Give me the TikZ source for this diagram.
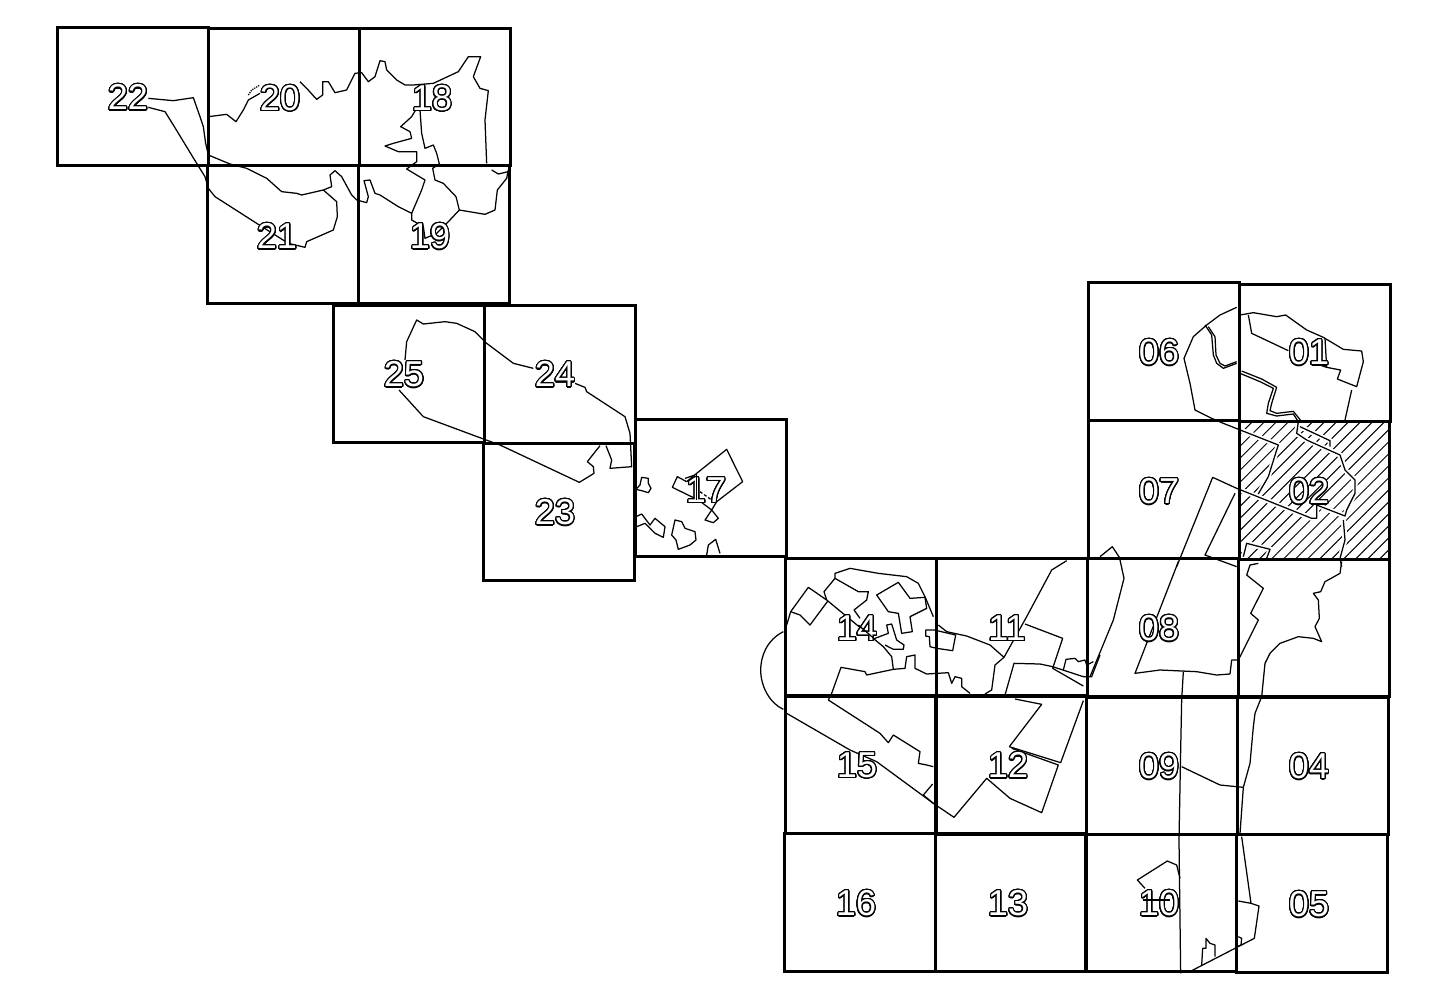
\documentclass[tikz,border=0pt]{standalone}
\usepackage{fontspec}
\usepackage[copies]{contour}
\setmainfont{Liberation Sans}
\usetikzlibrary{patterns.meta}
\contourlength{1.2pt}
\contournumber{32}
\newcommand{\sheetno}[1]{\contour{black}{\textcolor{white}{#1}}}
\begin{document}
\begin{tikzpicture}[
        x=1pt, y=-1pt,
        sheet/.style={draw, line width=3pt, minimum width=151pt, minimum height=137.5pt, outer sep=0pt, inner sep=0pt},
        hatched/.style={pattern={Lines[angle=45,distance=8.5pt,line width=1pt]}},
        sheetlabel/.style={inner sep=0pt, yshift=-1pt, font=\fontsize{36}{36}\selectfont},
        coast/.style={draw, line width=1.25pt, line join=round},
        halo/.style={preaction={draw=white, line width=5pt}},
        nw area/.style={shift={(40,20)},scale=1/3},
        mid area/.style={shift={(320,300)},scale=1/3},
        south area/.style={shift={(750,550)},scale=1/3},
        ne area/.style={shift={(1080,280)},scale=1/3},
        se area/.style={shift={(1080,550)},scale=1/3},
    ]
    \useasboundingbox (0,0) rectangle (1437,989);
    % hatched sheet goes under the coast
    \node[sheet, hatched, minimum width=150pt](s02) at (1314,490.5){};
    % sheets 06, 01, 07, 02
    \begin{scope}[ne area]
        \path[coast, halo] (470,82) -- (420,105) -- (380,135) -- (340,170) -- (312,235) -- (330,310) -- (345,390) -- (395,415) -- (430,430) -- (595,495) -- (590,510) -- (565,590) -- (530,650);
        \path[coast] (375,135) -- (395,165) -- (400,225) -- (410,250) -- (430,265) -- (470,250);
        \path[coast] (385,140) -- (405,170) -- (408,225) -- (420,250) -- (435,258) -- (470,245);
        \path[coast] (480,105) -- (520,98) -- (590,110) -- (617,105) -- (680,150) -- (730,172) -- (790,208) -- (845,213) -- (850,245) -- (830,320) -- (772,297) -- (782,270) -- (740,262) -- (690,245);
        \path[coast] (505,105) -- (515,160) -- (625,212);
        \path[coast] (735,175) -- (740,262);
        \path[coast] (815,330) -- (795,420);
        \path[coast, halo] (480,280) -- (540,305) -- (580,325) -- (565,370) -- (560,400) -- (590,408) -- (640,402) -- (655,425) -- (650,460) -- (680,480) -- (780,525) -- (795,570) -- (825,600) -- (825,640) -- (800,690) -- (795,708) -- (710,675) -- (710,715) -- (695,715) -- (470,625) -- (398,592) -- (290,860);
        \path[coast] (485,273) -- (545,297) -- (590,322) -- (575,370) -- (570,392) -- (590,400) -- (640,394) -- (665,425);
        \path[coast] (465,640) -- (375,825) -- (470,860);
        \path[coast, halo] (660,440) -- (750,482) -- (750,500);
        \path[coast, halo] (790,720) -- (795,780) -- (780,835) -- (785,860);
        \path[coast, halo] (490,830) -- (500,790) -- (570,808) -- (560,835);
        \path[coast] (60,830) -- (97,800) -- (120,835);
    \end{scope}
    % coast and boundaries, top left sheets
    \begin{scope}[nw area]
        \path[coast] (325,235) -- (400,242) -- (460,233) -- (480,290) -- (490,320) -- (497,370) -- (505,405) -- (570,432) -- (620,445) -- (680,475) -- (725,515) -- (770,520) -- (785,525) -- (850,510) -- (875,500) -- (870,465) -- (885,452) -- (905,470) -- (935,525) -- (950,540) -- (980,548) -- (985,530) -- (972,482) -- (990,480) -- (1005,520) -- (1020,525) -- (1075,560) -- (1115,580) -- (1145,510) -- (1155,480) -- (1100,447) -- (1130,425) -- (1130,395) -- (1075,395) -- (1035,378) -- (1060,370) -- (1115,355) -- (1110,335) -- (1082,320) -- (1115,290) -- (1130,265);
        \path[coast] (1115,580) -- (1115,600) -- (1150,620) -- (1155,655) -- (1190,640) -- (1225,605) -- (1258,570) -- (1335,583) -- (1365,570) -- (1372,510) -- (1400,475) -- (1405,450);
        \path[coast] (1258,570) -- (1248,530) -- (1210,490) -- (1185,480) -- (1178,445) -- (1198,432) -- (1190,400) -- (1180,375) -- (1155,385) -- (1145,340) -- (1140,270);
        \path[coast] (1355,450) -- (1375,462) -- (1405,455);
        \path[coast] (505,290) -- (560,283) -- (588,305) -- (610,270) -- (625,240) -- (660,220);
        \path[coast, densely dotted] (625,225) -- (635,210) -- (660,195);
        \path[coast] (780,185) -- (800,205) -- (830,238) -- (848,225) -- (848,185) -- (865,185) -- (885,218) -- (920,210) -- (945,160) -- (965,158) -- (985,185) -- (1005,170) -- (1020,122) -- (1035,125) -- (1040,150) -- (1070,180) -- (1095,195) -- (1120,195) -- (1180,190) -- (1255,155) -- (1285,110) -- (1322,110) -- (1300,170) -- (1320,205) -- (1345,212) -- (1335,300) -- (1340,430);
        \path[coast] (325,262) -- (375,275) -- (400,315) -- (470,430) -- (495,470) -- (505,505) -- (525,530) -- (650,610) -- (745,670) -- (795,682) -- (800,665) -- (880,630) -- (892,590) -- (890,545) -- (850,510);
    \end{scope}
    % sheets 25, 24, 23, 17
    \begin{scope}[mid area]
        \path[coast] (237,270) -- (310,350) -- (485,415) -- (540,435) -- (778,547) -- (822,520) -- (820,500) -- (802,485) -- (840,437);
        \path[coast] (255,180) -- (260,125) -- (290,60) -- (310,72) -- (375,65) -- (410,70) -- (465,95) -- (500,130) -- (580,190) -- (640,205);
        \path[coast] (765,250) -- (795,262) -- (800,275) -- (915,350) -- (930,400) -- (935,500) -- (870,505) -- (875,480) -- (858,437);
        \path[coast] (948,568) -- (960,555) -- (965,532) -- (985,535) -- (985,550) -- (993,565) -- (985,578) -- (965,572) -- cycle;
        \path[coast] (948,650) -- (965,642) -- (990,675) -- (1005,655) -- (1035,680) -- (1030,712) -- (1005,700) -- (975,670) -- (950,680);
        \path[coast] (1065,660) -- (1085,665) -- (1095,685) -- (1125,695) -- (1128,720) -- (1110,735) -- (1075,748) -- (1068,720) -- (1055,705) -- cycle;
        \path[coast] (1160,765) -- (1165,735) -- (1187,718) -- (1200,760);
        \path[coast] (1175,630) -- (1195,655) -- (1180,668) -- (1155,660) -- cycle;
        \path[coast] (1057,562) -- (1072,530) -- (1100,545) -- (1130,520) -- (1220,448) -- (1268,545) -- (1190,605) -- (1175,630) -- (1135,600) -- cycle;
    \end{scope}
    % sheets 14, 11, 15, 12
    \begin{scope}[south area]
        \path[coast] (100,245) .. controls (50,270) and (32,320) .. (32,360) .. controls (32,410) and (60,460) .. (100,478);
        \path[coast] (110,490) -- (300,600) -- (380,635) -- (550,760) -- (612,802) -- (710,685) -- (780,745) -- (875,788) -- (925,645) -- (785,595);
        \path[coast] (778,590) -- (932,638) -- (1000,452);
        \path[coast] (778,590) -- (875,463) -- (795,447);
        \path[coast] (550,760) -- (520,735) -- (548,702);
        \path[coast] (235,450) -- (390,550) -- (415,578) -- (430,555) -- (510,605) -- (505,640) -- (530,645) -- (550,650);
        \path[coast] (235,450) -- (245,430) -- (273,352) -- (345,365) -- (350,375) -- (430,358) -- (465,355) -- (470,320) -- (495,315) -- (495,355) -- (530,372) -- (595,368) -- (605,400) -- (615,380) -- (635,385) -- (635,410) -- (660,430);
        \path[coast] (430,358) -- (425,320) -- (400,290) -- (230,150) -- (175,112) -- (122,185) -- (150,195) -- (180,225) -- (232,155);
        \path[coast] (122,185) -- (110,225);
        \path[coast] (230,150) -- (222,125) -- (255,85) -- (325,125) -- (355,125) -- (350,150) -- (312,180) -- (330,205);
        \path[coast] (255,85) -- (255,70) -- (300,55) -- (385,70) -- (470,80) -- (505,100) -- (525,140) -- (550,200);
        \path[coast] (380,135) -- (445,97) -- (480,145) -- (525,142) -- (530,175) -- (480,200) -- (487,245) -- (455,250) -- (445,190) -- (415,185) -- cycle;
        \path[coast] (375,265) -- (415,250) -- (410,225) -- (425,222) -- (440,270) -- (462,285) -- (460,298) -- (430,298) -- (405,285);
        \path[coast] (527,240) -- (553,240) -- (617,255) -- (608,302) -- (560,295) -- (540,290) -- (538,260) -- (527,258) -- cycle;
        \path[coast] (565,225) -- (590,245) -- (650,258) -- (720,285) -- (762,322) -- (830,200) -- (905,60) -- (950,32);
        \path[coast] (825,222) -- (938,265) -- (908,355) -- (1000,408);
        \path[coast] (762,322) -- (735,345) -- (725,420) -- (705,432);
        \path[coast] (765,435) -- (792,340) -- (870,342) -- (908,350) -- (1000,380) -- (1025,380) -- (1050,315);
        \path[coast] (940,360) -- (948,328) -- (975,325) -- (985,335) -- (1005,330) -- (1010,345) -- (1030,335);
    \end{scope}
    % sheets 08, 03, 09, 04, 10, 05
    \begin{scope}[se area]
        \path[coast] (120,30) -- (132,85) -- (100,210) -- (30,380);
        \path[coast] (295,35) -- (165,370) -- (240,360) -- (350,365) -- (410,375) -- (450,372) -- (455,330) -- (475,330) -- (535,210) -- (512,190) -- (550,115) -- (500,75) -- (510,45) -- (535,40);
        \path[coast] (310,365) -- (305,450) -- (302,600) -- (297,870) -- (302,1270);
        \path[coast] (305,650) -- (420,705) -- (490,712) -- (510,640) -- (520,530) -- (525,490) -- (545,440) -- (555,340) -- (570,310) -- (600,280) -- (655,260) -- (700,265) -- (725,275) -- (705,230) -- (718,205) -- (715,150) -- (700,130) -- (722,125) -- (735,95) -- (780,70) -- (785,35);
        \path[coast] (490,712) -- (480,850);
        \path[coast] (485,860) -- (513,1060) -- (475,1053);
        \path[coast] (513,1060) -- (537,1068) -- (523,1165) -- (335,1262);
        \path[coast] (475,1160) -- (485,1165) -- (483,1185) -- (470,1190);
        \path[coast] (300,985) -- (290,945) -- (262,933) -- (172,990) -- (195,1015);
        \path[coast] (365,1245) -- (368,1195) -- (378,1195) -- (378,1165) -- (390,1180) -- (405,1185) -- (405,1220);
    \end{scope}
    % map sheets
    \node[sheet](s22) at (132.5,96.5){};
    \node[sheet](s20) at (283.5,97){};
    \node[sheet](s18) at (434.5,97){};
    \node[sheet](s21) at (282.5,234.5){};
    \node[sheet](s19) at (433.5,234.5){};
    \node[sheet](s25) at (408.5,374){};
    \node[sheet](s24) at (559.5,374.5){};
    \node[sheet](s23) at (559,512){};
    \node[sheet](s17) at (710.5,488){};
    \node[sheet](s06) at (1163.5,351.5){};
    \node[sheet](s01) at (1315,353){};
    \node[sheet](s07) at (1163.5,489.5){};
    \node[sheet](s14) at (860.5,627){};
    \node[sheet](s11) at (1011.5,627){};
    \node[sheet](s08) at (1162.5,627.5){};
    \node[sheet](s03) at (1313.5,628){};
    \node[sheet](s15) at (860.5,765){};
    \node[sheet](s12) at (1011,765.5){};
    \node[sheet](s09) at (1161.5,766){};
    \node[sheet](s04) at (1313,766){};
    \node[sheet](s16) at (859.5,902.5){};
    \node[sheet](s13) at (1010.5,902.5){};
    \node[sheet](s10) at (1161,903){};
    \node[sheet](s05) at (1312,903.5){};
    % sheet numbers
    \node[sheetlabel](n22) at (128,97){\sheetno{22}};
    \node[sheetlabel](n20) at (280,98){\sheetno{20}};
    \node[sheetlabel](n18) at (432,98){\sheetno{18}};
    \node[sheetlabel](n21) at (277,236){\sheetno{21}};
    \node[sheetlabel](n19) at (430,236){\sheetno{19}};
    \node[sheetlabel](n25) at (404,374){\sheetno{25}};
    \node[sheetlabel](n24) at (555,374){\sheetno{24}};
    \node[sheetlabel](n23) at (555,512){\sheetno{23}};
    \node[sheetlabel](n17) at (706,490){\sheetno{17}};
    \node[sheetlabel](n06) at (1159,352){\sheetno{06}};
    \node[sheetlabel](n01) at (1309,352){\sheetno{01}};
    \node[sheetlabel](n07) at (1159,491){\sheetno{07}};
    \node[sheetlabel](n02) at (1309,491){\sheetno{02}};
    \node[sheetlabel](n14) at (857,628){\sheetno{14}};
    \node[sheetlabel](n11) at (1007,628){\sheetno{11}};
    \node[sheetlabel](n08) at (1159,628){\sheetno{08}};
    \node[sheetlabel](n15) at (857,765){\sheetno{15}};
    \node[sheetlabel](n12) at (1008,765){\sheetno{12}};
    \node[sheetlabel](n09) at (1159,766){\sheetno{09}};
    \node[sheetlabel](n04) at (1309,766){\sheetno{04}};
    \node[sheetlabel](n16) at (856,903){\sheetno{16}};
    \node[sheetlabel](n13) at (1008,903){\sheetno{13}};
    \node[sheetlabel](n10) at (1159,903){\sheetno{10}};
    \node[sheetlabel](n05) at (1309,904){\sheetno{05}};
    % lines that run over the numbers
    \path[coast, shift={(320,300)}, scale=1/3] (1130,520) -- (1130,600);
    \path[coast, shift={(320,300)}, scale=1/3] (1095,535) -- (1125,525);
    \path[coast, densely dashed, shift={(320,300)}, scale=1/3] (1140,575) -- (1175,600);
    \path[coast, shift={(750,550)}, scale=1/3] (325,225) -- (375,268);
    \path[coast, shift={(1080,550)}, scale=1/3] (190,1050) -- (270,1050);
\end{tikzpicture}
\end{document}
